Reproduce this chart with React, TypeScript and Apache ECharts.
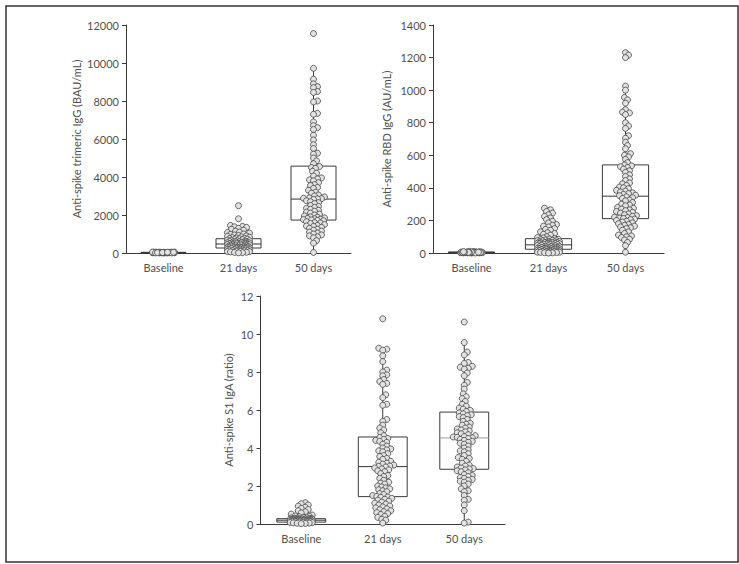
import React, { useEffect, useRef } from "react";
import * as echarts from "echarts";

const CATEGORIES = ["Baseline", "21 days", "50 days"];

// ---------- Panel 1: Anti-spike trimeric IgG (BAU/mL) ----------
const IGG_NAME = "Anti-spike trimeric IgG (BAU/mL)";
const IGG_MAX = 12000;
const IGG_INTERVAL = 2000;
const IGG_BASELINE = [0, 5, 10, 12, 15, 18, 20, 22, 25, 28, 30, 32, 35, 38, 40, 42, 45, 48, 50, 8, 3, 14, 26, 33, 44, 6, 19, 27, 36, 41];
const IGG_D21 = [
  2490, 1800, 1450, 1400, 1380, 1350, 1300, 1250, 1200, 1150, 1100, 1080, 1050, 1000, 980, 950, 920, 900, 880, 850, 830, 810, 790, 775, 760,
  745, 730, 710, 700, 680, 660, 650, 640, 620, 610, 600, 590, 580, 570, 560, 550, 540, 530, 520, 510, 500, 495, 490, 485, 478,
  470, 460, 450, 440, 430, 420, 410, 400, 390, 380, 370, 360, 350, 340, 330, 320, 310, 300, 295, 290, 285, 280, 275, 270, 265,
  260, 250, 240, 230, 220, 210, 200, 190, 180, 170, 160, 150, 140, 130, 120, 110, 100, 90, 80, 70, 60, 40, 30, 20, 10,
];
const IGG_D50 = [
  11550, 9720, 9150, 8900, 8750, 8700, 8500, 8450, 8000, 7950, 7350, 7300, 6900, 6700, 6600, 6500, 6200, 5950, 5700, 5500, 5250, 5200, 5000, 4850, 4700,
  4550, 4500, 4450, 4300, 4200, 4050, 3950, 3900, 3850, 3800, 3700, 3600, 3550, 3450, 3400, 3300, 3200, 3150, 3050, 3000, 2950, 2900, 2880, 2860, 2850,
  2820, 2750, 2700, 2650, 2600, 2500, 2450, 2400, 2350, 2300, 2250, 2200, 2150, 2100, 2050, 2000, 1950, 1900, 1880, 1850, 1820, 1800, 1780, 1760, 1740,
  1720, 1700, 1650, 1600, 1580, 1550, 1500, 1450, 1420, 1400, 1350, 1300, 1250, 1200, 1150, 1100, 1050, 1000, 950, 900, 850, 800, 650, 520, 30,
];
// [low whisker, Q1, median, Q3, high whisker]
const IGG_BOXES = [
  [0, 10, 20, 35, 50],
  [0, 263, 473, 752, 1450],
  [0, 1734, 2838, 4573, 9720],
];

// ---------- Panel 2: Anti-spike RBD IgG (AU/mL) ----------
const RBD_NAME = "Anti-spike RBD IgG (AU/mL)";
const RBD_MAX = 1400;
const RBD_INTERVAL = 200;
const RBD_BASELINE = [0, 1, 1, 2, 2, 3, 3, 4, 4, 5, 5, 6, 6, 7, 8, 9, 10, 2, 3, 4, 1, 0, 5, 6, 7, 3, 2, 4, 5, 8];
const RBD_D21 = [
  275, 265, 255, 245, 235, 225, 215, 205, 195, 185, 175, 170, 165, 160, 150, 145, 140, 130, 125, 120, 115, 110, 100, 95, 92,
  88, 86, 84, 82, 80, 78, 76, 75, 74, 72, 70, 68, 67, 66, 65, 64, 63, 62, 61, 60, 59, 58, 57, 56, 55,
  54, 53, 52, 50, 48, 46, 45, 44, 42, 40, 39, 38, 36, 35, 34, 33, 32, 31, 30, 29, 28, 27, 26, 25, 24,
  23, 22, 21, 20, 19, 18, 17, 16, 15, 14, 13, 12, 11, 10, 9, 8, 7, 6, 5, 5, 4, 3, 2, 1, 0,
];
const RBD_D50 = [
  1230, 1215, 1200, 1025, 1000, 955, 940, 920, 880, 865, 860, 850, 800, 780, 765, 720, 705, 680, 660, 640, 610, 600, 590, 575, 555,
  540, 535, 530, 525, 515, 505, 495, 480, 470, 455, 445, 430, 425, 415, 405, 400, 395, 385, 380, 375, 370, 365, 360, 355, 352,
  345, 340, 335, 325, 320, 310, 300, 295, 290, 280, 275, 270, 265, 260, 255, 250, 245, 240, 235, 230, 225, 220, 218, 215, 212,
  208, 205, 200, 195, 190, 185, 180, 175, 170, 165, 160, 155, 150, 140, 130, 120, 110, 105, 100, 95, 85, 80, 65, 45, 5,
];
const RBD_BOXES = [
  [0, 2, 4, 6, 10],
  [0, 23, 50, 88, 277],
  [0, 211, 349, 541, 1025],
];

// ---------- Panel 3: Anti-spike S1 IgA (ratio) ----------
const IGA_NAME = "Anti-spike S1 IgA (ratio)";
const IGA_MAX = 12;
const IGA_INTERVAL = 2;
const IGA_BASELINE = [
  1.12, 1.06, 1.0, 0.94, 0.88, 0.82, 0.76, 0.7, 0.64, 0.58, 0.52, 0.47, 0.42, 0.4, 0.38, 0.36, 0.34, 0.32, 0.3, 0.3,
  0.29, 0.28, 0.28, 0.27, 0.26, 0.26, 0.25, 0.25, 0.24, 0.24, 0.23, 0.23, 0.22, 0.22, 0.21, 0.21, 0.2, 0.2, 0.2, 0.19,
  0.19, 0.18, 0.18, 0.17, 0.17, 0.16, 0.16, 0.15, 0.15, 0.14, 0.14, 0.13, 0.12, 0.12, 0.11, 0.1, 0.1, 0.09, 0.08, 0.07,
  0.06, 0.05, 0.04, 0.03, 0.02,
];
const IGA_D21 = [
  10.8, 9.25, 9.2, 9.15, 8.85, 8.55, 8.1, 8.0, 7.85, 7.8, 7.6, 7.5, 7.4, 7.35, 6.8, 6.65, 6.3, 6.25, 5.5, 5.4, 5.2, 5.05, 4.95, 4.8, 4.65,
  4.55, 4.5, 4.45, 4.4, 4.35, 4.3, 4.2, 4.1, 4.0, 3.95, 3.9, 3.85, 3.8, 3.7, 3.6, 3.55, 3.45, 3.4, 3.3, 3.25, 3.2, 3.15, 3.1, 3.05, 3.03,
  3.0, 2.95, 2.9, 2.85, 2.8, 2.75, 2.65, 2.55, 2.5, 2.4, 2.3, 2.2, 2.15, 2.1, 2.0, 1.95, 1.9, 1.85, 1.8, 1.75, 1.7, 1.6, 1.55, 1.5, 1.45,
  1.42, 1.4, 1.35, 1.3, 1.25, 1.2, 1.15, 1.1, 1.05, 1.0, 0.95, 0.9, 0.85, 0.8, 0.75, 0.7, 0.65, 0.6, 0.55, 0.5, 0.4, 0.35, 0.25, 0.2, 0.05,
];
const IGA_D50 = [
  10.63, 9.55, 9.05, 8.9, 8.5, 8.45, 8.3, 8.25, 8.2, 8.15, 7.95, 7.8, 7.45, 7.3, 7.1, 6.85, 6.7, 6.6, 6.45, 6.3, 6.2, 6.1, 6.05, 5.98, 5.92,
  5.85, 5.8, 5.75, 5.7, 5.65, 5.6, 5.5, 5.4, 5.3, 5.25, 5.2, 5.1, 5.05, 5.0, 4.95, 4.9, 4.85, 4.8, 4.75, 4.7, 4.65, 4.6, 4.58, 4.56, 4.54,
  4.5, 4.45, 4.4, 4.35, 4.3, 4.25, 4.2, 4.1, 4.0, 3.9, 3.85, 3.8, 3.7, 3.6, 3.5, 3.45, 3.4, 3.3, 3.2, 3.1, 3.05, 3.0, 2.95, 2.92, 2.9,
  2.85, 2.8, 2.75, 2.7, 2.6, 2.55, 2.5, 2.45, 2.4, 2.35, 2.3, 2.25, 2.2, 2.1, 2.0, 1.85, 1.75, 1.7, 1.5, 1.3, 1.25, 1.0, 0.7, 0.1, 0.05,
];
const IGA_BOXES = [
  [0.02, 0.1, 0.2, 0.28, 1.12],
  [0.05, 1.44, 3.02, 4.58, 9.25],
  [0.05, 2.88, 4.53, 5.89, 9.55],
];

// ---------- layout / style ----------
const GRID_H = 228;
const PANELS = [
  { name: IGG_NAME, max: IGG_MAX, interval: IGG_INTERVAL, groups: [IGG_BASELINE, IGG_D21, IGG_D50], boxes: IGG_BOXES,
    grid: { left: 126, top: 25, width: 225, height: GRID_H }, nameGap: 44, medianColors: ["#333", "#333", "#333"] },
  { name: RBD_NAME, max: RBD_MAX, interval: RBD_INTERVAL, groups: [RBD_BASELINE, RBD_D21, RBD_D50], boxes: RBD_BOXES,
    grid: { left: 433, top: 25, width: 231, height: GRID_H }, nameGap: 41, medianColors: ["#333", "#333", "#333"] },
  { name: IGA_NAME, max: IGA_MAX, interval: IGA_INTERVAL, groups: [IGA_BASELINE, IGA_D21, IGA_D50], boxes: IGA_BOXES,
    grid: { left: 260.5, top: 296, width: 244.5, height: GRID_H }, nameGap: 27, medianColors: ["#333", "#333", "#9a9a9a"] },
];

const FONT = "Lato, 'Open Sans', sans-serif";
const TEXT_COLOR = "#505050";
const LINE_COLOR = "#3a3a3a";
const MAX_OFF = 11;
const MIN_DIST = 3.6;
const R = 3;

// deterministic beeswarm layout (pixel offsets)
function swarm(values: number[], pxPerUnit: number): number[] {
  const order = values.map((_, i) => i).sort((a, b) => values[a] - values[b]);
  const placed: { x: number; y: number }[] = [];
  const offs = new Array(values.length).fill(0);
  const cands: number[] = [0];
  for (let s = 1; s <= MAX_OFF + 0.01; s += 1) {
    cands.push(s, -s);
  }
  for (const i of order) {
    const y = values[i] * pxPerUnit;
    let best = 0;
    let bestScore = -1;
    let chosen: number | null = null;
    for (const c of cands) {
      let md = Infinity;
      for (const p of placed) {
        const dy = p.y - y;
        if (Math.abs(dy) >= MIN_DIST) continue;
        const d = Math.hypot(p.x - c, dy);
        if (d < md) md = d;
      }
      if (md >= MIN_DIST) {
        chosen = c;
        break;
      }
      if (md > bestScore) {
        bestScore = md;
        best = c;
      }
    }
    const x = chosen !== null ? chosen : best;
    offs[i] = x;
    placed.push({ x, y });
  }
  return offs;
}

export default function App() {
  const ref = useRef<HTMLDivElement>(null);
  useEffect(() => {
    if (!ref.current) return;
    const chart = echarts.init(ref.current, undefined, { renderer: "svg" });

    const grids: any[] = [];
    const xAxes: any[] = [];
    const yAxes: any[] = [];
    const series: any[] = [];

    PANELS.forEach((p, pi) => {
      grids.push({ ...p.grid });
      xAxes.push({
        type: "category",
        gridIndex: pi,
        data: CATEGORIES,
        axisLine: { lineStyle: { color: LINE_COLOR, width: 1 } },
        axisTick: { length: 4, lineStyle: { color: LINE_COLOR } },
        axisLabel: { color: TEXT_COLOR, fontSize: 11, fontFamily: FONT, margin: 9 },
      });
      yAxes.push({
        type: "value",
        gridIndex: pi,
        min: 0,
        max: p.max,
        interval: p.interval,
        name: p.name,
        nameLocation: "middle",
        nameGap: p.nameGap,
        nameTextStyle: { color: TEXT_COLOR, fontSize: 11, fontFamily: FONT },
        axisLine: { show: true, lineStyle: { color: LINE_COLOR, width: 1 } },
        axisTick: { show: true, length: 4, lineStyle: { color: LINE_COLOR } },
        splitLine: { show: false },
        axisLabel: { color: TEXT_COLOR, fontSize: 11, fontFamily: FONT, margin: 7, formatter: (v: number) => String(v) },
      });

      const boxData = p.boxes.map((b, ci) => [ci, ...b]);
      const medianColors = p.medianColors;
      series.push({
        type: "custom",
        xAxisIndex: pi,
        yAxisIndex: pi,
        z: 2,
        silent: true,
        data: boxData,
        encode: { x: 0, y: [1, 2, 3, 4, 5] },
        renderItem: (params: any, api: any) => {
          const ci = api.value(0);
          const lo = api.coord([ci, api.value(1)]);
          const q1 = api.coord([ci, api.value(2)]);
          const md = api.coord([ci, api.value(3)]);
          const q3 = api.coord([ci, api.value(4)]);
          const hi = api.coord([ci, api.value(5)]);
          const bw = api.size([1, 0])[0] * 0.6;
          const cx = lo[0];
          return {
            type: "group",
            children: [
              { type: "line", shape: { x1: cx, y1: lo[1], x2: cx, y2: hi[1] }, style: { stroke: LINE_COLOR, lineWidth: 1 } },
              { type: "rect", shape: { x: cx - bw / 2, y: q3[1], width: bw, height: q1[1] - q3[1] },
                style: { fill: "none", stroke: LINE_COLOR, lineWidth: 1 } },
              { type: "line", shape: { x1: cx - bw / 2, y1: md[1], x2: cx + bw / 2, y2: md[1] },
                style: { stroke: medianColors[params.dataIndex], lineWidth: 1 } },
            ],
          };
        },
      });

      const pxPerUnit = GRID_H / p.max;
      const pts: any[] = [];
      p.groups.forEach((vals, ci) => {
        const offs = swarm(vals, pxPerUnit);
        vals.forEach((v, i) => pts.push([ci, v, offs[i]]));
      });
      series.push({
        type: "custom",
        xAxisIndex: pi,
        yAxisIndex: pi,
        z: 3,
        silent: true,
        data: pts,
        encode: { x: 0, y: 1 },
        renderItem: (params: any, api: any) => {
          const c = api.coord([api.value(0), api.value(1)]);
          return {
            type: "circle",
            shape: { cx: c[0] + api.value(2), cy: c[1], r: R },
            style: { fill: "#e2e2e2", stroke: "#444", lineWidth: 0.8 },
          };
        },
      });
    });

    chart.setOption({
      animation: false,
      backgroundColor: "#ffffff",
      grid: grids,
      xAxis: xAxes,
      yAxis: yAxes,
      series,
      graphic: [
        {
          type: "rect",
          left: 3.5,
          top: 3.5,
          shape: { x: 0, y: 0, width: 732, height: 556 },
          style: { fill: "none", stroke: "#333", lineWidth: 1.5 },
          z: 10,
        },
      ],
    });
    return () => chart.dispose();
  }, []);

  return <div ref={ref} style={{ position: "absolute", left: 0, top: 0, width: 739, height: 564 }} />;
}
